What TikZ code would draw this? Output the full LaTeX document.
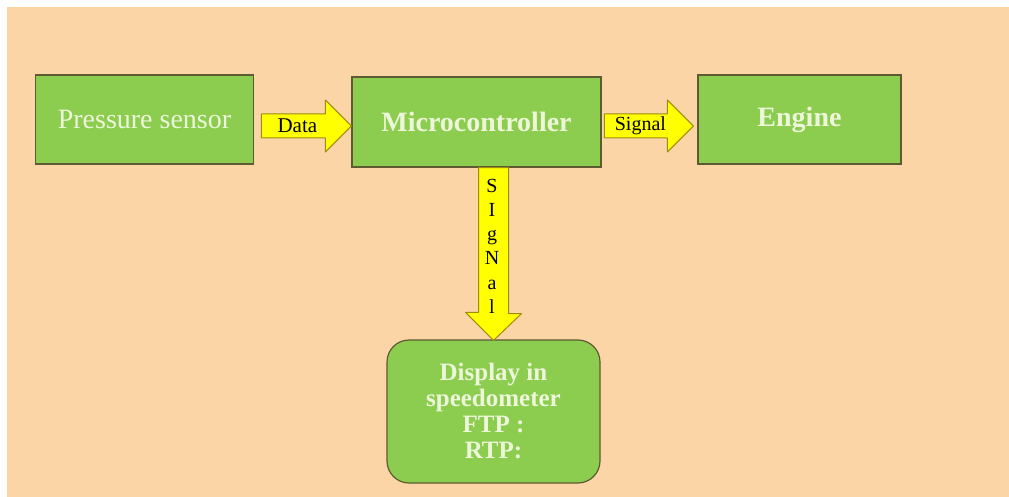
\documentclass[tikz,border=0pt]{standalone}
\usepackage{fontspec}
\setmainfont{Liberation Serif}
\usetikzlibrary{calc}
\definecolor{peach}{HTML}{FCD5A6}
\definecolor{boxgreen}{HTML}{8CCD50}
\definecolor{boxedge}{HTML}{5E5A32}
\definecolor{boxtext}{HTML}{EEF6DA}
\definecolor{arrowyellow}{HTML}{FFFF00}
\definecolor{arrowedge}{HTML}{9C8C10}
\tikzset{
  box/.style = {draw = boxedge, fill = boxgreen, line width = 1.2pt, text = boxtext,
    inner sep = 0pt, font = \fontsize{28}{30}\selectfont},
  yarrow/.style = {draw = arrowedge, fill = arrowyellow, line width = 1pt, line join = round},
  arrowlabel/.style = {inner sep = 0pt, font = \fontsize{20}{20}\selectfont}
}
\begin{document}
\begin{tikzpicture}[x = 1pt, y = -1pt]
\useasboundingbox (0,0) rectangle (1009,497);
\fill[white] (0,0) rectangle (1009,497);
\fill[peach] (7,7) rectangle (1009,497);
% blocks
\node[box, minimum width = 218, minimum height = 89] (sensor) at (144.5,119.5) {Pressure sensor};
\node[box, minimum width = 249, minimum height = 90, font = \fontsize{28}{30}\selectfont\bfseries] (micro) at (476.5,122) {Microcontroller};
\node[box, minimum width = 203, minimum height = 89, font = \fontsize{28}{30}\selectfont\bfseries] (engine) at (799.5,119.5) {Engine};
\node[box, minimum width = 213, minimum height = 143, rounded corners = 22, align = center,
  font = \fontsize{25}{26}\selectfont\bfseries] (display) at (493.5,411.5) {Display in\\speedometer\\FTP :\\RTP:};
% arrows
\coordinate (datatip) at ($(micro.west)+(0,4)$);
\draw[yarrow] (datatip) -- ++(-26,-26) -- ++(0,14) -- ++(-64,0) -- ++(0,24) -- ++(64,0) -- ++(0,14) -- cycle;
\node[arrowlabel, font = \fontsize{21}{21}\selectfont] (data) at ($(datatip)+(-54,0)$) {Data};
\coordinate (signaltip) at ($(engine.west)+(-4,6.5)$);
\draw[yarrow] (signaltip) -- ++(-26,-26) -- ++(0,14) -- ++(-63,0) -- ++(0,24) -- ++(63,0) -- ++(0,14) -- cycle;
\node[arrowlabel] (signal) at ($(signaltip)+(-53,0)$) {Signal};
\coordinate (downtip) at ($(display.north)+(0,1)$);
\draw[yarrow] (downtip) -- ++(-28,-28) -- ++(13,0) -- (micro.south -| {$(downtip)+(-15,0)$}) -- ++(30,0) -- ++(0,146) -- ++(13,0) -- cycle;
\foreach \ch [count = \i] in {S,I,g,N,a,l}
{
\node[arrowlabel, anchor = base] (sig\i) at (492, 168+24.2*\i) {\ch};
}
\end{tikzpicture}
\end{document}
